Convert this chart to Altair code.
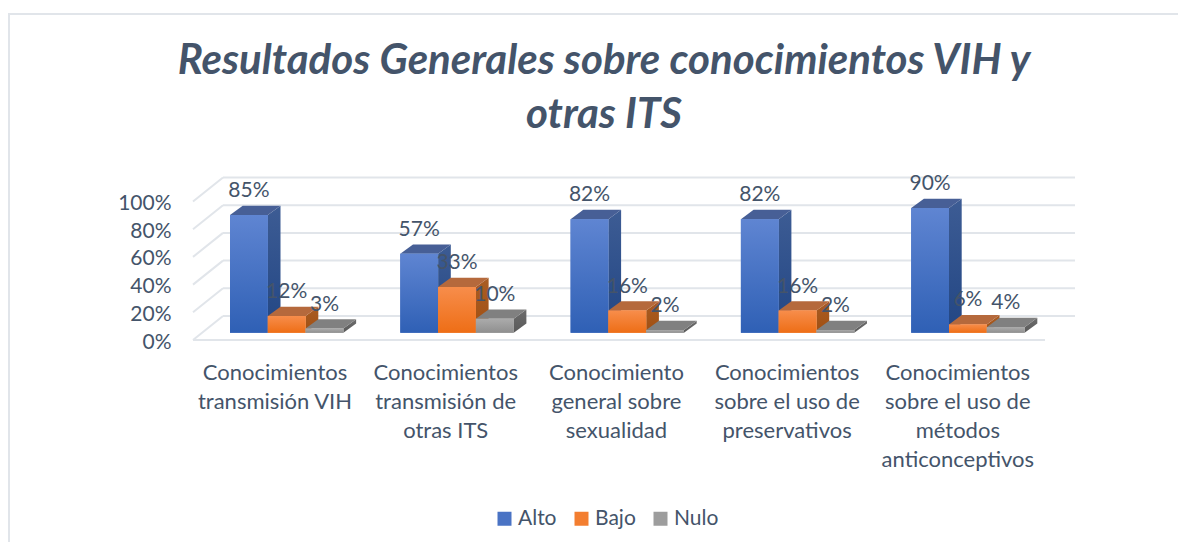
import altair as alt
import pandas as pd

categories = [
    "Conocimientos\ntransmisión VIH",
    "Conocimientos\ntransmisión de\notras ITS",
    "Conocimiento\ngeneral sobre\nsexualidad",
    "Conocimientos\nsobre el uso de\npreservativos",
    "Conocimientos\nsobre el uso de\nmétodos\nanticonceptivos",
]
series = ["Alto", "Bajo", "Nulo"]
alto = [85, 57, 82, 82, 90]
bajo = [12, 33, 16, 16, 6]
nulo = [3, 10, 2, 2, 4]
values = {"Alto": alto, "Bajo": bajo, "Nulo": nulo}

TXT = "#44546a"
GRID = "#e1e5ea"
FONT = "Lato"

front = {"Alto": ("#5f85d2", "#2f60b5"), "Bajo": ("#f78d4b", "#ee6e16"), "Nulo": ("#ababab", "#8f8f8f")}
side = {"Alto": ("#3d5c94", "#224684"), "Bajo": ("#a95d24", "#a14f12"), "Nulo": ("#6c6c6c", "#5a5a5a")}
topc = {"Alto": "#475f96", "Bajo": "#b5693c", "Nulo": "#808080"}
legend_colors = ["#4a73c4", "#f37e30", "#9d9d9d"]

PX_PER_UNIT_X = 170.3
PX_PER_PCT = 1.385
VIEW_W, VIEW_H = 882, 163
x0 = 230 - 193  # px from wall-left to first bar
XMIN = -x0 / PX_PER_UNIT_X
XMAX = XMIN + VIEW_W / PX_PER_UNIT_X
YMAX = VIEW_H / PX_PER_PCT

BAR_W = 37.8 / PX_PER_UNIT_X
DEPTH_X = 12.7 / PX_PER_UNIT_X
DEPTH_Y = 9.3 / PX_PER_PCT
BASE = 7.3 / PX_PER_PCT
WALL_X = 30 / PX_PER_UNIT_X
WALL_Y = 24 / PX_PER_PCT

x_scale = alt.Scale(domain=[XMIN, XMAX], nice=False, zero=False)
y_scale = alt.Scale(domain=[0, YMAX], nice=False, zero=False)
ticks = [0, 20, 40, 60, 80, 100]
y_axis = alt.Axis(
    values=ticks, labelExpr="datum.value + '%'", title=None, domain=False, ticks=False, grid=False,
    labelFont=FONT, labelFontSize=21, labelColor=TXT, labelPadding=22, labelOffset=2)


def grad(c1, c2):
    return alt.Gradient(
        gradient="linear", x1=0, x2=0, y1=0, y2=1,
        stops=[alt.GradientStop(offset=0, color=c1), alt.GradientStop(offset=1, color=c2)],
    )


X = alt.X("x:Q", scale=x_scale, axis=None)
Y = alt.Y("y:Q", scale=y_scale, stack=None, axis=y_axis)

# wall
wall_rows, diag_rows = [], []
for t in ticks:
    for xx in (XMIN + WALL_X, XMAX):
        wall_rows.append({"t": t, "x": xx, "y": t + WALL_Y})
    diag_rows.append({"t": t, "x": XMIN, "y": t})
    diag_rows.append({"t": t, "x": XMIN + WALL_X, "y": t + WALL_Y})
floor_rows = [{"t": 0, "x": XMIN, "y": 0}, {"t": 0, "x": XMAX - WALL_X, "y": 0}]
grid_line = lambda rows: alt.Chart(pd.DataFrame(rows)).mark_line(color=GRID, strokeWidth=2, clip=False).encode(
    x=X, y=Y, detail="t:N"
)

layers = [grid_line(wall_rows), grid_line(diag_rows), grid_line(floor_rows)]

bar_rows = []
for si, s in enumerate(series):
    side_rows, top_rows, front_rows = [], [], []
    for g, v in enumerate(values[s]):
        xl = g + si * BAR_W
        xr = xl + BAR_W
        top = BASE + v
        side_rows += [
            {"g": g, "x": xr, "y": BASE, "yb": top},
            {"g": g, "x": xr + DEPTH_X, "y": BASE + DEPTH_Y, "yb": top + DEPTH_Y},
        ]
        top_rows += [
            {"g": g, "x": xl, "y": top, "yb": top},
            {"g": g, "x": xl + DEPTH_X, "y": top, "yb": top + DEPTH_Y},
            {"g": g, "x": xr, "y": top, "yb": top + DEPTH_Y},
            {"g": g, "x": xr + DEPTH_X, "y": top + DEPTH_Y, "yb": top + DEPTH_Y},
        ]
        front_rows.append({"g": g, "s": s, "x": xl, "x2": xr, "y": BASE, "yb": top})
        bar_rows.append({"s": s, "val": v, "x": (xl + xr) / 2, "y": top, "label": f"{v}%"})
    layers.append(alt.Chart(pd.DataFrame(side_rows)).mark_area(color=grad(*side[s]), clip=False, orient="vertical").encode(
        x=X, y=Y, y2=alt.Y2("yb:Q"), detail="g:N"))
    layers.append(alt.Chart(pd.DataFrame(top_rows)).mark_area(color=topc[s], clip=False, orient="vertical").encode(
        x=X, y=Y, y2=alt.Y2("yb:Q"), detail="g:N"))
    front_df = pd.DataFrame(front_rows)
    layers.append(alt.Chart(front_df).mark_rect().encode(
        x=X, x2="x2:Q", y=Y, y2="yb:Q",
        color=alt.Color("s:N", scale=alt.Scale(domain=series, range=legend_colors), legend=alt.Legend(
            orient="none", legendX=301, legendY=331, columns=3, direction="horizontal", title=None,
            symbolType="square", symbolSize=196, symbolStrokeWidth=0, labelFont=FONT, labelFontSize=21,
            labelColor=TXT, columnPadding=14, labelOffset=3,
        )),
    ))
    layers.append(alt.Chart(front_df).mark_rect(color=grad(*front[s])).encode(
        x=X, x2="x2:Q", y=Y, y2="yb:Q"))

# data labels
layers.append(alt.Chart(pd.DataFrame(bar_rows)).mark_text(
    font=FONT, fontSize=21, color=TXT, dy=-24, baseline="middle", align="center", clip=False
).encode(x=X, y=Y, text="label:N"))

# category labels
cat_rows = [{"x": (275 + 170.7 * i - 230) / PX_PER_UNIT_X, "cat": c} for i, c in enumerate(categories)]
layers.append(alt.Chart(pd.DataFrame(cat_rows)).mark_text(
    font=FONT, fontSize=22, color=TXT, lineBreak="\n", lineHeight=29, baseline="top", align="center", clip=False
).encode(x=alt.X("x:Q", scale=x_scale, axis=None), y=alt.value(VIEW_H + 23), text="cat:N"))

# chart frame
frame_top = alt.Chart(pd.DataFrame({"a": [0]})).mark_rule(color=GRID, strokeWidth=2).encode(
    x=alt.value(-185), x2=alt.value(985), y=alt.value(-163))
frame_left = alt.Chart(pd.DataFrame({"a": [0]})).mark_rule(color=GRID, strokeWidth=2).encode(
    x=alt.value(-184), y=alt.value(-163), y2=alt.value(371))
layers += [frame_top, frame_left]

chart = alt.layer(*layers).resolve_scale(color="shared").properties(
    width=VIEW_W,
    height=VIEW_H,
    autosize=alt.AutoSizeParams(type="none"),
    padding={"left": 185, "top": 169, "right": 103, "bottom": 202},
    title=alt.TitleParams(
        text=["Resultados Generales sobre conocimientos VIH y", "otras ITS"],
        font=FONT, fontSize=42, fontStyle="italic", fontWeight="bold", color=TXT,
        anchor="middle", dx=-30, offset=-124, lineHeight=54,
    ),
).configure_view(stroke=None)

chart.save("out.html", embed_options={"renderer": "svg", "actions": False})
